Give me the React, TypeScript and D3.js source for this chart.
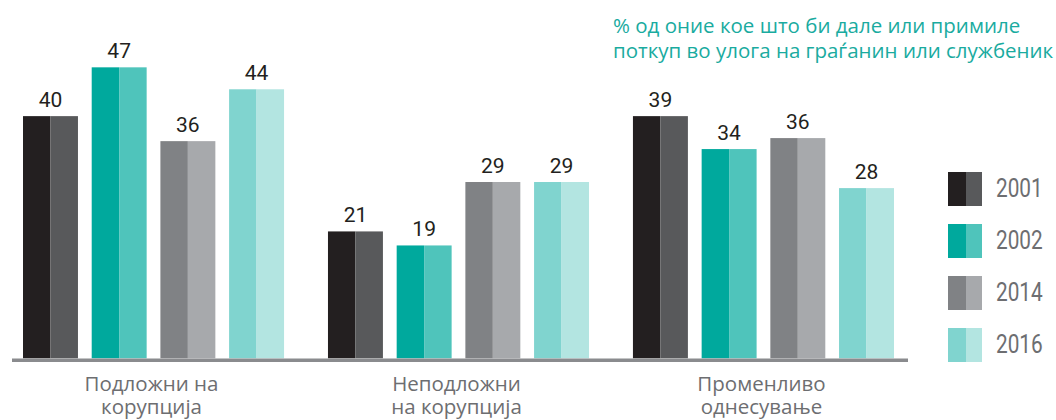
import React from 'react';
import * as d3 from 'd3';

// categories (two-line labels) and years
const categories = ['Подложни на корупција', 'Неподложни на корупција', 'Променливо однесување'];
const categoryLines = [
  ['Подложни на', 'корупција'],
  ['Неподложни', 'на корупција'],
  ['Променливо', 'однесување'],
];
const years = ['2001', '2002', '2014', '2016'];

const values2001 = [39.7, 20.8, 39.7];
const values2002 = [47.7, 18.5, 34.3];
const values2014 = [35.6, 28.9, 36.1];
const values2016 = [44.1, 28.9, 27.9];
const labels2001 = ['40', '21', '39'];
const labels2002 = ['47', '19', '34'];
const labels2014 = ['36', '29', '36'];
const labels2016 = ['44', '29', '28'];

const series = [
  { year: '2001', values: values2001, labels: labels2001, dark: '#231f20', light: '#58595b' },
  { year: '2002', values: values2002, labels: labels2002, dark: '#00a99d', light: '#4fc4bb' },
  { year: '2014', values: values2014, labels: labels2014, dark: '#808285', light: '#a7a9ac' },
  { year: '2016', values: values2016, labels: labels2016, dark: '#80d4cf', light: '#b3e5e1' },
];

const title = ['% од оние кое што би дале или примиле', 'поткуп во улога на граѓанин или службеник'];

const App = () => {
  const baseline = 358.3;

  const x0 = d3.scaleBand<string>()
    .domain(categories)
    .range([23, 894])
    .paddingInner(0.144);

  const x1 = d3.scaleBand<string>()
    .domain(years)
    .range([0, x0.bandwidth()])
    .paddingInner(0.2);

  const y = d3.scaleLinear()
    .domain([0, 50])
    .range([baseline, baseline - 305]);

  const legendY = d3.scalePoint<string>()
    .domain(years)
    .range([189, 345]);

  const bw = x1.bandwidth();

  return (
    <svg
      width={1056}
      height={420}
      style={{ position: 'absolute', left: 0, top: 0, background: '#fff' }}
    >
      {/* bars */}
      {categories.map((c, ci) => (
        <g key={c} transform={`translate(${x0(c)},0)`}>
          {series.map(s => {
            const bx = x1(s.year) as number;
            const top = y(s.values[ci]);
            return (
              <g key={s.year}>
                <rect x={bx} y={top} width={bw / 2} height={baseline - top} fill={s.dark} />
                <rect x={bx + bw / 2} y={top} width={bw / 2} height={baseline - top} fill={s.light} />
                <text
                  x={bx + bw / 2}
                  y={top - 9}
                  textAnchor="middle"
                  fontFamily="Roboto"
                  fontSize={21}
                  fill="#231f20"
                >
                  {s.labels[ci]}
                </text>
              </g>
            );
          })}
          {categoryLines[ci].map((line, li) => (
            <text
              key={li}
              x={x0.bandwidth() / 2 - 2}
              y={391 + li * 22.5}
              textAnchor="middle"
              fontFamily="Open Sans"
              fontSize={20.5}
              fill="#6d6e71"
            >
              {line}
            </text>
          ))}
        </g>
      ))}

      {/* baseline */}
      <line x1={12} x2={908} y1={360.2} y2={360.2} stroke="#8a8b8e" strokeWidth={3.6} />

      {/* legend */}
      {series.map(s => {
        const cy = legendY(s.year) as number;
        return (
          <g key={s.year}>
            <rect x={948} y={cy - 17} width={18} height={34} fill={s.dark} />
            <rect x={966} y={cy - 17} width={16} height={34} fill={s.light} />
            <text
              transform={`translate(996,${cy + 8}) scale(0.8,1)`}
              fontFamily="Roboto"
              fontSize={26}
              fill="#6d6e71"
            >
              {s.year}
            </text>
          </g>
        );
      })}

      {/* title */}
      {title.map((line, i) => (
        <text
          key={i}
          x={613}
          y={33 + i * 25}
          fontFamily="Open Sans"
          fontSize={20.5}
          fill="#1aab9f"
        >
          {line}
        </text>
      ))}
    </svg>
  );
};

export default App;
